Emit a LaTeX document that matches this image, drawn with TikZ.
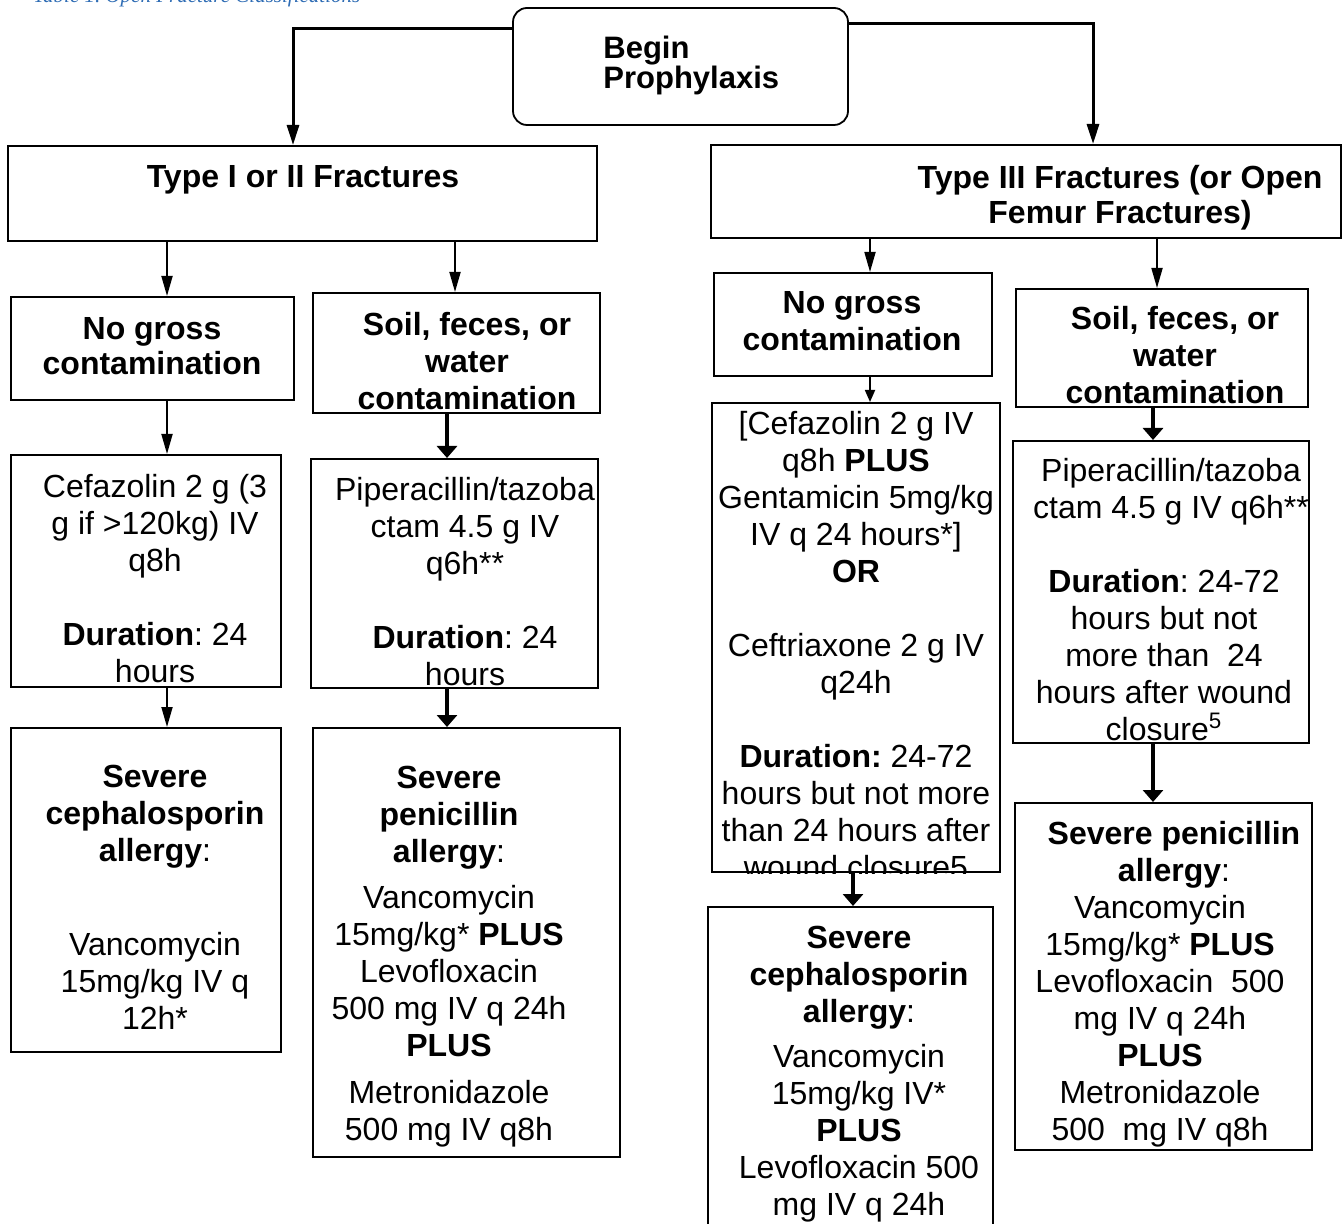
\documentclass[tikz,border=0pt]{standalone}
\usepackage{fontspec}
\setmainfont{Liberation Sans}
\newfontfamily\captionfont{Liberation Serif}
\usetikzlibrary{arrows.meta, positioning, fit}
\usepackage{xcolor}
\definecolor{captionblue}{RGB}{46, 108, 180}
\frenchspacing

\begin{document}
\begin{tikzpicture}[
    x=0.5pt, y=-0.5pt,
    % box styles
    frame/.style={
        rectangle, draw=black, line width=1pt, inner sep=0pt
    },
    startframe/.style={
        rectangle, rounded corners=7pt, draw=black, line width=0.9pt, inner sep=0pt
    },
    % text styles
    body/.style={
        anchor=north, align=center, inner sep=0pt,
        font=\fontsize{16}{18.5}\selectfont
    },
    headtext/.style={body, font=\fontsize{16}{18.5}\selectfont\bfseries},
    % arrow styles
    toparrow/.style={-{Triangle[length=10pt, width=6pt]}, line width=1.5pt},
    thinarrow/.style={-{Triangle[length=10pt, width=5.5pt]}, line width=0.9pt},
    shortarrow/.style={-{Triangle[length=6pt, width=5pt]}, line width=0.9pt},
    thickarrow/.style={-{Triangle[length=6pt, width=10pt]}, line width=1.6pt},
]
\useasboundingbox (0,0) rectangle (1342,1224);

% ==================== caption (cut at the top) ====================
\node[anchor=base west, inner sep=0pt, text=captionblue,
      font=\captionfont\itshape\fontsize{10.5}{12}\selectfont] (caption) at (33,3)
      {Table 1. Open Fracture Classifications};

% ==================== boxes ====================
\node[startframe, fit={(513,8) (848,125)}] (begin) {};

\node[frame, fit={(8,146) (597,241)}] (typeone) {};
\node[frame, fit={(711,145) (1341,238)}] (typethree) {};

\node[frame, fit={(11,297) (294,400)}] (nogrossL) {};
\node[frame, fit={(313,293) (600,413)}] (soilL) {};
\node[frame, fit={(714,273) (992,376)}] (nogrossR) {};
\node[frame, fit={(1016,289) (1308,407)}] (soilR) {};

\node[frame, fit={(11,455) (281,687)}] (cefL) {};
\node[frame, fit={(311,459) (598,688)}] (piperL) {};
\node[frame, fit={(712,403) (1000,872)}] (cefR) {};
\node[frame, fit={(1013,441) (1309,743)}] (piperR) {};

\node[frame, fit={(11,728) (281,1052)}] (allergyL) {};
\node[frame, fit={(313,728) (620,1157)}] (penicillinL) {};
\node[frame, fit={(708,907) (993,1240)}] (allergyR) {};
\node[frame, fit={(1015,803) (1312,1150)}] (penicillinR) {};

% ==================== texts ====================
\node[anchor=north west, align=left, inner sep=0pt,
      font=\fontsize{15.5}{15}\selectfont\bfseries] (begintxt) at (603,36)
      {Begin\\Prophylaxis};

\node[headtext] (typeonetxt) at (303,165) {Type I or II Fractures};
\node[headtext] (typethreetxt) at (1120,165) {Type III Fractures (or Open\\[-1pt]Femur Fractures)};

\node[headtext] (nogrossLtxt) at (152,317) {No gross\\[-1pt]contamination};
\node[headtext] (soilLtxt) at (467,312) {Soil, feces, or\\water\\contamination};
\node[headtext] (nogrossRtxt) at (852,291) {No gross\\contamination};
\node[headtext] (soilRtxt) at (1175,306) {Soil, feces, or\\water\\contamination};

\node[body] (cefLtxt) at (155,474)
    {Cefazolin 2 g (3\\g if >120kg) IV\\q8h\\[18.5pt]\textbf{Duration}: 24\\hours};
\node[body] (piperLtxt) at (465,477)
    {Piperacillin/tazoba\\ctam 4.5 g IV\\q6h**\\[18.5pt]\textbf{Duration}: 24\\hours};

\begin{scope}
    \clip (cefR.north west) rectangle (cefR.south east);
    \node[body] (cefRtxt) at (856,411)
        {[Cefazolin 2 g IV\\q8h \textbf{PLUS}\\Gentamicin 5mg/kg\\IV q 24 hours*]\\\textbf{OR}\\[18.5pt]%
         Ceftriaxone 2 g IV\\q24h\\[18.5pt]\textbf{Duration:} 24-72\\hours but not more\\than 24 hours after\\wound closure5};
\end{scope}

\node[body] (piperRtxt) at (1164,458)
    {\hspace*{7pt}Piperacillin/tazoba\\\hspace*{7pt}ctam 4.5 g IV q6h**\\[18.5pt]\textbf{Duration}: 24-72\\hours but not\\more than\ \ 24\\hours after wound\\closure\textsuperscript{5}};

\node[body] (allergyLtxt) at (155,765)
    {\textbf{Severe}\\\textbf{cephalosporin}\\\textbf{allergy}:\\[28.5pt]Vancomycin\\15mg/kg IV q\\12h*};
\node[body] (penicillinLtxt) at (449,766)
    {\textbf{Severe}\\\textbf{penicillin}\\\textbf{allergy}:\\[4.5pt]Vancomycin\\15mg/kg* \textbf{PLUS}\\Levofloxacin\\500 mg IV q 24h\\\textbf{PLUS}\\[5pt]Metronidazole\\500 mg IV q8h};
\node[body] (allergyRtxt) at (859,926)
    {\textbf{Severe}\\\textbf{cephalosporin}\\\textbf{allergy}:\\[4pt]Vancomycin\\15mg/kg IV*\\\textbf{PLUS}\\Levofloxacin 500\\mg IV q 24h};
\node[body] (penicillinRtxt) at (1160,821)
    {\hspace*{14pt}\textbf{Severe penicillin}\\\hspace*{14pt}\textbf{allergy}:\\Vancomycin\\15mg/kg* \textbf{PLUS}\\Levofloxacin\ \ 500\\mg IV q 24h\\\textbf{PLUS}\\Metronidazole\\500\ \ mg IV q8h};

% ==================== arrow columns ====================
\coordinate (colL) at (293,0);
\coordinate (colR) at (1093,0);
\coordinate (colA) at (167,0);
\coordinate (colB) at (455,0);
\coordinate (colC) at (447,0);
\coordinate (colD) at (870,0);
\coordinate (colE) at (853,0);
\coordinate (colF) at (1157,0);
\coordinate (colG) at (1153,0);

% ==================== connectors ====================
\draw[toparrow] ([yshift=-10.5pt]begin.north west) -| (typeone.north -| colL);
\draw[toparrow] ([yshift=-8pt]begin.north east) -| (typethree.north -| colR);

\draw[thinarrow] (typeone.south -| colA) -- (nogrossL.north -| colA);
\draw[thinarrow] (typeone.south -| colB) -- (soilL.north -| colB);
\draw[thinarrow] (nogrossL.south -| colA) -- (cefL.north -| colA);
\draw[thickarrow] (soilL.south -| colC) -- (piperL.north -| colC);
\draw[thinarrow] (cefL.south -| colA) -- (allergyL.north -| colA);
\draw[thickarrow] (piperL.south -| colC) -- (penicillinL.north -| colC);

\draw[thinarrow] (typethree.south -| colD) -- (nogrossR.north -| colD);
\draw[thinarrow] (typethree.south -| colF) -- (soilR.north -| colF);
\draw[shortarrow] (nogrossR.south -| colD) -- (cefR.north -| colD);
\draw[thickarrow] (soilR.south -| colG) -- (piperR.north -| colG);
\draw[thickarrow] (cefR.south -| colE) -- (allergyR.north -| colE);
\draw[thickarrow] (piperR.south -| colG) -- (penicillinR.north -| colG);

\end{tikzpicture}
\end{document}
